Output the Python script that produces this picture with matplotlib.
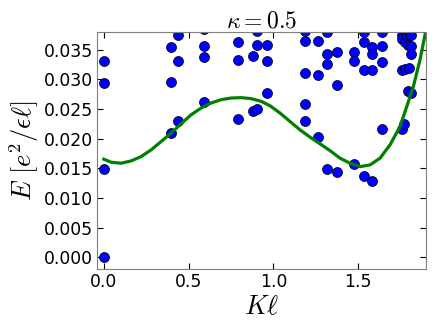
import matplotlib
matplotlib.use("Agg")
import matplotlib.pyplot as plt

plt.rcParams["mathtext.fontset"] = "cm"

# spectrum points (K*l, E in e^2/(eps*l))
k_pts = [
    0.000, 0.000, 0.000, 0.000,
    0.394, 0.394, 0.394,
    0.437, 0.437, 0.437,
    0.592, 0.592, 0.592, 0.592,
    0.789, 0.789, 0.789,
    0.877, 0.877,
    0.901, 0.901, 0.901,
    0.960, 0.960, 0.960,
    1.185, 1.185, 1.185, 1.185, 1.185,
    1.265, 1.265, 1.265,
    1.318, 1.318, 1.318, 1.318,
    1.377, 1.377, 1.377,
    1.476, 1.476, 1.476,
    1.535, 1.535, 1.535, 1.535,
    1.580, 1.580, 1.580, 1.580,
    1.639, 1.639, 1.639, 1.639,
    1.757, 1.757, 1.757, 1.757,
    1.771,
    1.777, 1.777,
    1.787,
    1.796, 1.796,
    1.802,
    1.806,
    1.810, 1.810, 1.810, 1.810,
]
e_pts = [
    0.0330, 0.0293, 0.0149, 0.0000,
    0.0355, 0.0296, 0.0210,
    0.0374, 0.0330, 0.0230,
    0.0384, 0.0356, 0.0338, 0.0262,
    0.0362, 0.0332, 0.0233,
    0.0339, 0.0246,
    0.0381, 0.0357, 0.0250,
    0.0358, 0.0330, 0.0276,
    0.0381, 0.0364, 0.0311, 0.0258, 0.0229,
    0.0364, 0.0307, 0.0203,
    0.0380, 0.0343, 0.0326, 0.0149,
    0.0346, 0.0290, 0.0143,
    0.0346, 0.0331, 0.0157,
    0.0380, 0.0363, 0.0315, 0.0137,
    0.0355, 0.0343, 0.0315, 0.0129,
    0.0380, 0.0356, 0.0329, 0.0216,
    0.0375, 0.0367, 0.0316, 0.0216,
    0.0225,
    0.0362, 0.0317,
    0.0375,
    0.0358, 0.0280,
    0.0319,
    0.0375,
    0.0356, 0.0342, 0.0276, 0.0375,
]

# fitted dispersion curve
k_fit = [0.000, 0.043, 0.102, 0.161, 0.220, 0.279, 0.338, 0.397, 0.456, 0.515,
         0.574, 0.633, 0.692, 0.752, 0.811, 0.870, 0.929, 0.980, 1.039, 1.098,
         1.157, 1.216, 1.275, 1.334, 1.393, 1.452, 1.511, 1.570, 1.629, 1.688,
         1.747, 1.787, 1.826, 1.865, 1.895]
e_fit = [0.01652, 0.01601, 0.01584, 0.01623, 0.01696, 0.01809, 0.01950, 0.02092, 0.02249, 0.02401,
         0.02514, 0.02599, 0.02655, 0.02683, 0.02689, 0.02672, 0.02626, 0.02553, 0.02430, 0.02288,
         0.02147, 0.02024, 0.01911, 0.01797, 0.01669, 0.01584, 0.01527, 0.01556, 0.01669, 0.01894,
         0.02203, 0.02541, 0.02880, 0.03331, 0.03754]

x_ticks = [0.0, 0.5, 1.0, 1.5]
y_ticks = [0.000, 0.005, 0.010, 0.015, 0.020, 0.025, 0.030, 0.035]

fig = plt.figure(figsize=(4.36, 3.27), dpi=100)
ax = fig.add_axes([0.2225, 0.177, 0.7545, 0.726])

ax.plot(k_pts, e_pts, "o", color="blue", markeredgecolor="black",
        markeredgewidth=0.5, markersize=7.2, zorder=2)
ax.plot(k_fit, e_fit, "-", color="green", linewidth=2.3, zorder=3)

ax.set_xlim(-0.04, 1.9)
ax.set_ylim(-0.002, 0.038)
ax.set_xticks(x_ticks)
ax.set_xticklabels(["%.1f" % v for v in x_ticks])
ax.set_yticks(y_ticks)
ax.set_yticklabels(["%.3f" % v for v in y_ticks])
ax.tick_params(direction="in", top=True, right=True, labelsize=12.4, length=4, pad=3)
for s in ax.spines.values():
    s.set_color("0.5")

ax.set_xlabel(r"$K\ell$", fontsize=19, labelpad=2)
ax.set_ylabel(r"$E\ [e^2/\epsilon\ell]$", fontsize=19, labelpad=2)
ax.set_title(r"$\kappa=0.5$", fontsize=17, pad=3)

fig.savefig("out.png", dpi=100)
